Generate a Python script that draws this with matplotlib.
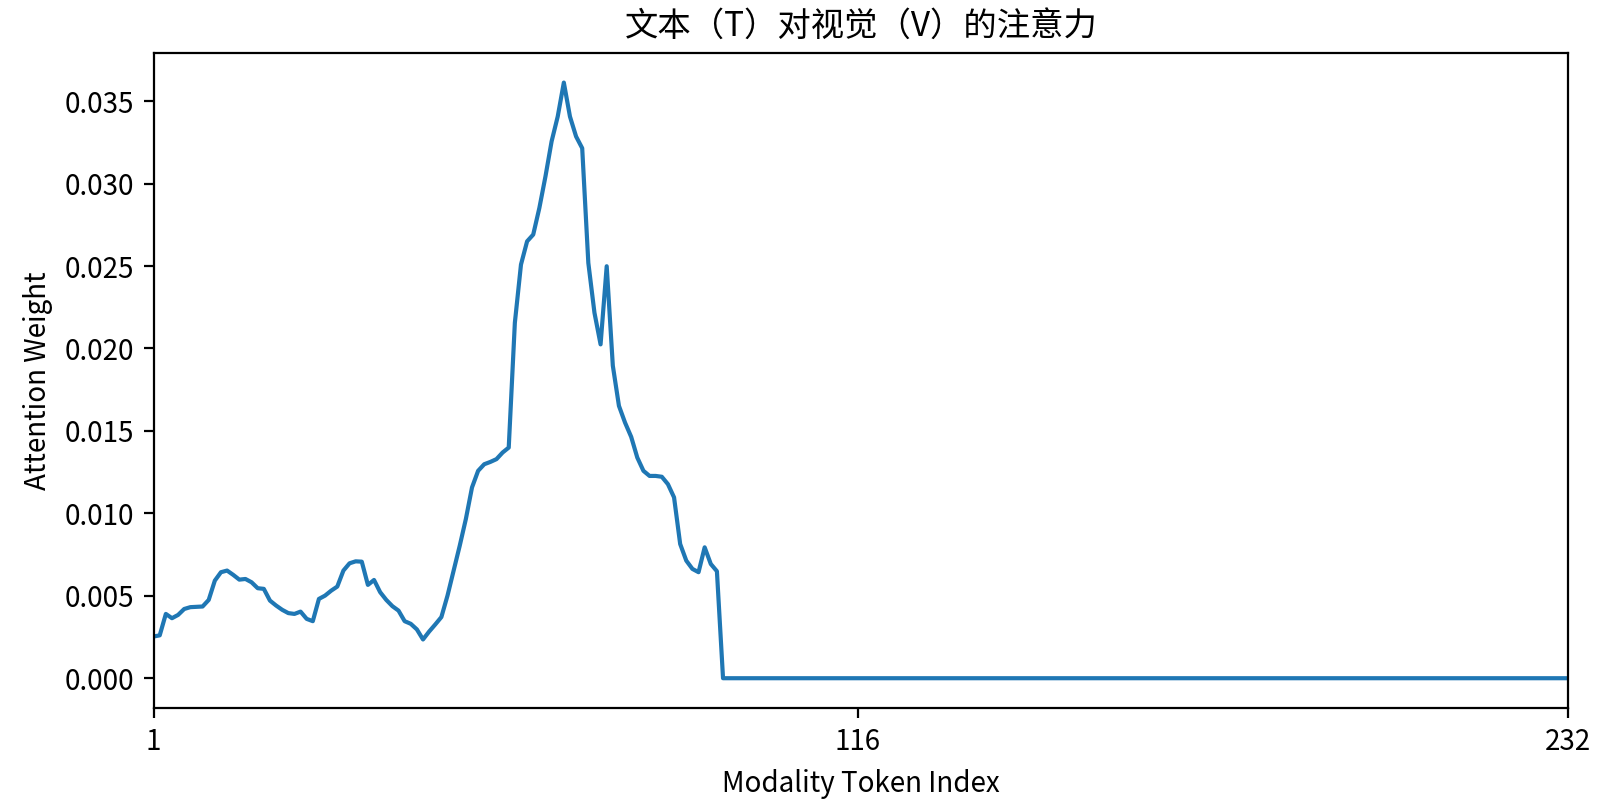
import numpy as np
import matplotlib
matplotlib.use("Agg")
import matplotlib.pyplot as plt

plt.rcParams['font.family'] = ['Noto Sans CJK SC', 'DejaVu Sans']
plt.rcParams['axes.unicode_minus'] = False

# attention weights (tokens 1..93), the rest are zero
head_weights = [
    0.00253, 0.0026, 0.0039, 0.00364, 0.00384, 0.0042, 0.00431, 0.00433, 0.00435, 0.00475,
    0.00592, 0.00643, 0.00653, 0.00627, 0.00598, 0.00602, 0.00582, 0.00546, 0.00542, 0.00471,
    0.00441, 0.00415, 0.00395, 0.0039, 0.00404, 0.0036, 0.00346, 0.00481, 0.00501, 0.00531,
    0.00556, 0.00653, 0.00697, 0.00709, 0.00707, 0.00566, 0.00596, 0.00522, 0.00475, 0.00437,
    0.0041, 0.00346, 0.0033, 0.00296, 0.00235, 0.00283, 0.00326, 0.00371, 0.00501, 0.00653,
    0.00804, 0.00966, 0.01157, 0.01258, 0.01298, 0.01312, 0.01329, 0.01369, 0.01399, 0.02156,
    0.02509, 0.0265, 0.02691, 0.02852, 0.03044, 0.03256, 0.03407, 0.03613, 0.03407, 0.03286,
    0.03215, 0.02519, 0.02217, 0.02025, 0.02499, 0.01896, 0.01652, 0.0155, 0.01464, 0.01338,
    0.01258, 0.01227, 0.01227, 0.01222, 0.01177, 0.01097, 0.00814, 0.00713, 0.00663, 0.00643,
    0.00794, 0.00693, 0.00649,
]
n_tokens = 232
weights = np.zeros(n_tokens)
weights[:len(head_weights)] = head_weights
token_idx = np.arange(1, n_tokens + 1)
x_ticks = [1, 116, 232]

fig, ax = plt.subplots(figsize=(8, 4), dpi=200)
fig.subplots_adjust(left=0.096, right=0.98, top=0.934, bottom=0.115)

ax.plot(token_idx, weights, color="#1f77b4", linewidth=1.5)
ax.set_xlim(1, n_tokens)
ax.set_xticks(x_ticks)
ax.set_yticks(np.arange(0, 0.0351, 0.005))
ax.yaxis.set_major_formatter(matplotlib.ticker.FormatStrFormatter('%.3f'))

ax.set_title("文本（T）对视觉（V）的注意力", fontsize=12)
ax.set_xlabel("Modality Token Index", fontsize=10)
ax.set_ylabel("Attention Weight", fontsize=10)

fig.savefig("out.png", dpi=200)
